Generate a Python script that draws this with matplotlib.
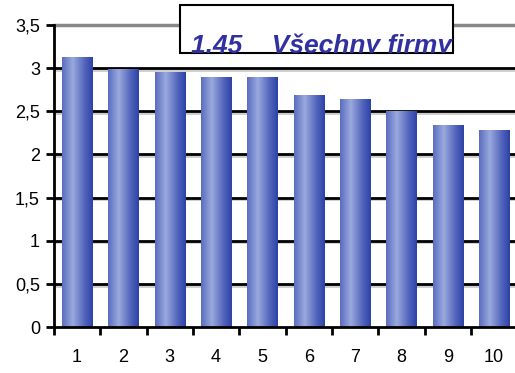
import numpy as np
import matplotlib.pyplot as plt
import matplotlib.patheffects as pe
from matplotlib.colors import LinearSegmentedColormap
from matplotlib.patches import Rectangle

plt.rcParams['font.family'] = ['Liberation Sans', 'DejaVu Sans']

# Average score per group
groups = ['1', '2', '3', '4', '5', '6', '7', '8', '9', '10']
scores = [3.13, 2.99, 2.95, 2.90, 2.90, 2.69, 2.64, 2.50, 2.34, 2.28]
title = '1.45    Všechny firmy'

fig = plt.figure(figsize=(5.15, 3.73), dpi=100)
ax = fig.add_axes([0.1045, 0.1233, 0.900, 0.8097])

x = np.arange(len(groups))
bars = ax.bar(x, scores, width=0.65, color='none', edgecolor='none', zorder=3)

# horizontal cylinder-like shading inside each bar
shade = LinearSegmentedColormap.from_list(
    'shade', [(0.0, '#5a6cc0'), (0.35, '#9aa9dd'), (0.75, '#5062bb'), (1.0, '#2c42a6')])
grad = np.linspace(0, 1, 256).reshape(1, -1)
for b in bars:
    x0, w, h = b.get_x(), b.get_width(), b.get_height()
    im = ax.imshow(grad, cmap=shade, aspect='auto', extent=(x0, x0 + w, 0, h),
                   zorder=3, interpolation='bilinear')
    im.set_clip_path(b)

ax.set_xlim(-0.5, len(groups) - 0.5)
ax.set_ylim(0, 3.5)

# gridlines with a soft grey shadow
shadow = [pe.SimpleLineShadow(offset=(0, -1.2), shadow_color='#aaaaaa', alpha=0.6), pe.Normal()]
for yv in np.arange(0.5, 3.5, 0.5):
    ax.axhline(yv, color='black', lw=2, zorder=1, path_effects=shadow)
ax.axhline(3.5, color='#888888', lw=2.5, zorder=1, clip_on=False)

ax.set_yticks(np.arange(0, 3.51, 0.5))
ax.set_yticklabels(['0', '0,5', '1', '1,5', '2', '2,5', '3', '3,5'])
ax.set_xticks(x)
ax.set_xticklabels(groups)
ax.set_xticks(np.arange(-0.5, len(groups), 1), minor=True)
ax.tick_params(axis='x', which='major', length=0, pad=16, labelsize=13)
ax.tick_params(axis='x', which='minor', length=6, width=2, direction='out')
ax.tick_params(axis='y', length=6, width=2, direction='out', pad=4, labelsize=13)

for side in ['top', 'right']:
    ax.spines[side].set_visible(False)
ax.spines['left'].set_linewidth(2)
ax.spines['bottom'].set_linewidth(2)
ax.spines['left'].set_zorder(4)
ax.spines['bottom'].set_zorder(4)

# title box sitting over the top of the plot
box = Rectangle((180 / 515, 1 - 53 / 373), 273 / 515, 48 / 373, transform=fig.transFigure,
                facecolor='white', edgecolor='black', lw=1.5, zorder=10)
fig.add_artist(box)
t = fig.text(191 / 515, 1 - 53 / 373, title, fontsize=19, fontweight='bold', fontstyle='italic',
             color='#3030a0', ha='left', va='baseline', zorder=11)
t.set_clip_path(box)

fig.savefig('out.png', dpi=100)
